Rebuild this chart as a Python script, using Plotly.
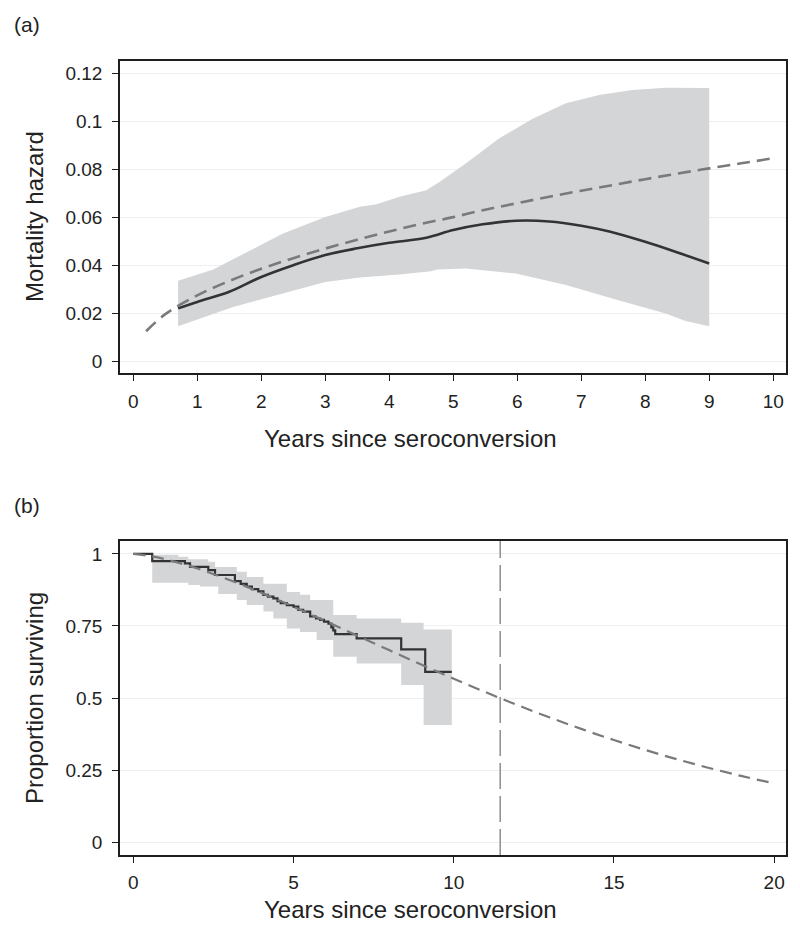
import plotly.graph_objects as go

# ---------------- Panel (a): mortality hazard ----------------
haz_t = [0.7, 1.0, 1.5, 2.0, 2.5, 3.0, 3.5, 4.0, 4.58, 5.0, 5.46, 5.98, 6.5, 7.0, 7.44, 8.0, 8.48, 9.0]
haz = [0.022, 0.0247, 0.0289, 0.0351, 0.040, 0.0442, 0.047, 0.0493, 0.0514, 0.0546, 0.057, 0.0585,
       0.0582, 0.0564, 0.054, 0.0497, 0.0455, 0.0407]

haz_up_t = [0.7, 1.0, 1.25, 2.34, 3.0, 3.54, 3.8, 4.16, 4.58, 4.79, 5.2, 5.72, 6.24, 6.76, 7.28, 7.8, 8.32, 9.0]
haz_up = [0.0335, 0.036, 0.0382, 0.0532, 0.060, 0.0643, 0.0654, 0.0685, 0.0712, 0.0747, 0.0824, 0.0928,
          0.101, 0.1074, 0.1108, 0.1129, 0.1139, 0.1138]
haz_lo_t = [0.7, 1.56, 2.34, 3.0, 3.54, 4.16, 4.65, 4.75, 5.2, 5.98, 6.76, 7.54, 8.32, 8.63, 9.0]
haz_lo = [0.0146, 0.0226, 0.0282, 0.033, 0.0349, 0.0361, 0.0375, 0.0382, 0.0386, 0.0365, 0.0317,
          0.0257, 0.0199, 0.0168, 0.0146]

wb_haz_t = [0.2, 0.5, 1, 1.5, 2, 2.5, 3, 3.5, 4, 4.5, 5, 5.5, 6, 6.5, 7, 7.5, 8, 8.5, 9, 9.5, 10]
wb_haz = [0.0125, 0.0196, 0.0274, 0.0334, 0.0385, 0.0429, 0.0469, 0.0506, 0.054, 0.0572, 0.0600,
          0.0631, 0.0658, 0.0685, 0.071, 0.0734, 0.0758, 0.0781, 0.0803, 0.0824, 0.0845]

a_xticks = [0, 1, 2, 3, 4, 5, 6, 7, 8, 9, 10]
a_yticks = [0, 0.02, 0.04, 0.06, 0.08, 0.1, 0.12]
a_yticklabels = ["0", "0.02", "0.04", "0.06", "0.08", "0.1", "0.12"]

# ---------------- Panel (b): survival ----------------
km_t = [0, 0.59, 1.61, 1.77, 2.34, 2.55, 3.17, 3.35, 3.54, 3.7, 3.9, 4.06, 4.2, 4.37, 4.5, 4.6, 4.79,
        5.0, 5.15, 5.3, 5.52, 5.7, 5.83, 5.95, 6.09, 6.18, 6.24, 6.3, 6.97, 8.36, 9.11, 9.94]
km_s = [1.0, 0.975, 0.967, 0.955, 0.944, 0.927, 0.906, 0.896, 0.887, 0.878, 0.87, 0.858, 0.852, 0.846,
        0.836, 0.829, 0.822, 0.817, 0.806, 0.8, 0.783, 0.776, 0.771, 0.765, 0.758, 0.745, 0.735, 0.722,
        0.707, 0.669, 0.591, 0.591]

ci_t = [0.0, 0.59, 1.405, 1.717, 2.08, 2.34, 2.55, 2.65, 3.23, 3.54, 4.06, 4.37, 4.79, 5.2, 5.52,
        5.72, 6.24, 6.97, 8.36, 9.06, 9.94]
ci_up = [1.0, 0.997, 0.99, 0.982, 0.982, 0.973, 0.955, 0.955, 0.938, 0.92, 0.897, 0.897, 0.868, 0.858,
         0.84, 0.84, 0.788, 0.776, 0.761, 0.738, 0.738]
ci_lo = [1.0, 0.9, 0.9, 0.892, 0.887, 0.887, 0.887, 0.861, 0.84, 0.823, 0.8, 0.776, 0.741, 0.729,
         0.729, 0.701, 0.643, 0.62, 0.545, 0.406, 0.406]

wb_surv_t = [0, 0.5, 1, 2, 3, 4, 5, 6, 7, 8, 9, 10, 11, 12, 13, 14, 15, 16, 17, 18, 19, 19.9]
wb_surv = [1.0, 0.9935, 0.9817, 0.9496, 0.9097, 0.8649, 0.8168, 0.7669, 0.7161, 0.6654, 0.6155,
           0.5668, 0.5199, 0.4749, 0.4322, 0.3919, 0.3541, 0.319, 0.2863, 0.2563, 0.2286, 0.206]
median_surv = 11.45

b_xticks = [0, 5, 10, 15, 20]
b_yticks = [0, 0.25, 0.5, 0.75, 1]
b_yticklabels = ["0", "0.25", "0.5", "0.75", "1"]

# ---------------- styling ----------------
OFF = 8                      # default page margin of the HTML body
W, H = 800 - OFF, 941 - OFF
FONT = "Liberation Sans, Arial, Helvetica, sans-serif"
BAND = "#d4d5d7"
DARK = "#333333"
DASH = "#7a7a7a"
FRAME = "#1e1e1e"


def px_x(p):
    return (p - OFF) / W


def px_y(p):
    return 1 - (p - OFF) / H


fig = go.Figure()

# Panel a
fig.add_trace(go.Scatter(x=haz_up_t + haz_lo_t[::-1], y=haz_up + haz_lo[::-1], fill="toself",
                         fillcolor=BAND, line=dict(width=0), mode="lines", hoverinfo="skip",
                         showlegend=False, xaxis="x", yaxis="y"))
fig.add_trace(go.Scatter(x=haz_t, y=haz, mode="lines", line=dict(color=DARK, width=2.6, shape="spline"),
                         showlegend=False, xaxis="x", yaxis="y"))
fig.add_trace(go.Scatter(x=wb_haz_t, y=wb_haz, mode="lines",
                         line=dict(color=DASH, width=2.6, dash="13px,7px", shape="spline"),
                         showlegend=False, xaxis="x", yaxis="y"))

# Panel b
fig.add_trace(go.Scatter(x=ci_t, y=ci_up, mode="lines", line=dict(width=0, shape="hv"),
                         hoverinfo="skip", showlegend=False, xaxis="x2", yaxis="y2"))
fig.add_trace(go.Scatter(x=ci_t, y=ci_lo, mode="lines", line=dict(width=0, shape="hv"),
                         fill="tonexty", fillcolor=BAND, hoverinfo="skip", showlegend=False,
                         xaxis="x2", yaxis="y2"))
fig.add_trace(go.Scatter(x=km_t, y=km_s, mode="lines", line=dict(color=DARK, width=2.2, shape="hv"),
                         showlegend=False, xaxis="x2", yaxis="y2"))
fig.add_trace(go.Scatter(x=wb_surv_t, y=wb_surv, mode="lines",
                         line=dict(color=DASH, width=2.2, dash="12px,7px", shape="spline"),
                         showlegend=False, xaxis="x2", yaxis="y2"))

fig.add_shape(type="line", xref="x2", yref="y2 domain", x0=median_surv, x1=median_surv, y0=0, y1=1,
              line=dict(color="#8e8e8e", width=1.5, dash="26px,7px"))

common_axis = dict(showline=True, mirror=True, linecolor=FRAME, linewidth=1.6, ticks="outside",
                   ticklen=6, tickwidth=1.4, tickcolor=FRAME, zeroline=False,
                   tickfont=dict(family=FONT, size=19, color="#222222"), automargin=False)

xdom = [px_x(120), px_x(786)]
fig.update_layout(
    width=W, height=H, margin=dict(l=0, r=0, t=0, b=0), paper_bgcolor="white", plot_bgcolor="white",
    font=dict(family=FONT, color="#222222"),
    xaxis=dict(domain=xdom, range=[-0.208, 10.2], tickvals=a_xticks, showgrid=False,
               anchor="y", ticklabelstandoff=4, **common_axis),
    yaxis=dict(domain=[px_y(373), px_y(61)], range=[-0.0049, 0.125], tickvals=a_yticks,
               ticktext=a_yticklabels, showgrid=True, gridcolor="#efefef", gridwidth=1,
               anchor="x", ticklabelstandoff=6, **common_axis),
    xaxis2=dict(domain=xdom, range=[-0.416, 20.37], tickvals=b_xticks, showgrid=False,
                anchor="y2", ticklabelstandoff=3, **common_axis),
    yaxis2=dict(domain=[px_y(855), px_y(541)], range=[-0.045, 1.045], tickvals=b_yticks,
                ticktext=b_yticklabels, showgrid=True, gridcolor="#efefef", gridwidth=1,
                anchor="x2", ticklabelstandoff=6, **common_axis),
)

ann_font = dict(family=FONT, size=24, color="#222222")
annotations = [
    dict(text="(a)", x=px_x(12), y=px_y(24), xanchor="left", yanchor="middle",
         font=dict(family=FONT, size=21, color="#222222")),
    dict(text="(b)", x=px_x(12), y=px_y(505), xanchor="left", yanchor="middle",
         font=dict(family=FONT, size=21, color="#222222")),
    dict(text="Mortality hazard", x=px_x(34), y=px_y(217), textangle=-90, xanchor="center",
         yanchor="middle", font=ann_font),
    dict(text="Years since seroconversion", x=px_x(410), y=px_y(438), xanchor="center",
         yanchor="middle", font=ann_font),
    dict(text="Proportion surviving", x=px_x(34), y=px_y(698), textangle=-90, xanchor="center",
         yanchor="middle", font=ann_font),
    dict(text="Years since seroconversion", x=px_x(410), y=px_y(909), xanchor="center",
         yanchor="middle", font=ann_font),
]
for a in annotations:
    a.update(xref="paper", yref="paper", showarrow=False)
fig.update_layout(annotations=annotations)

fig.write_html("out.html")
